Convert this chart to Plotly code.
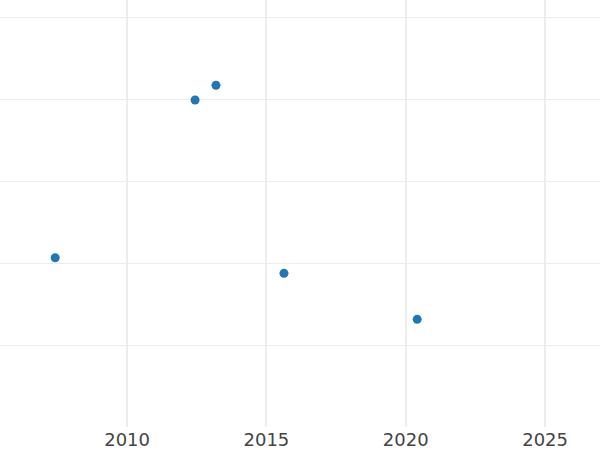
import plotly.graph_objects as go

# data
years = [2007.42, 2012.44, 2013.19, 2015.63, 2020.41]
values = [20.7, 39.9, 41.7, 18.8, 13.2]
x_ticks = [2010, 2015, 2020, 2025]
y_ticks = [10, 20, 30, 40, 50]

fig = go.Figure(go.Scatter(
    x=years, y=values, mode='markers',
    marker=dict(color='#1f77b4', size=9),
))

fig.update_layout(
    width=600, height=450,
    margin=dict(l=0, r=0, t=0, b=23),
    plot_bgcolor='white', paper_bgcolor='white',
    showlegend=False,
    font=dict(family='DejaVu Sans', size=18, color='#444444'),
)
fig.update_xaxes(
    range=[2005.44, 2026.97], tickvals=x_ticks,
    showgrid=True, gridcolor='#ededed', gridwidth=2,
    zeroline=False, showline=False, ticks='',
)
fig.update_yaxes(
    range=[0.1, 52.07], tickvals=y_ticks, showticklabels=False,
    showgrid=True, gridcolor='#ededed', gridwidth=1,
    zeroline=False, showline=False, ticks='',
)

# drop the page's default body margin so the figure sits at the window corner
fig.write_html("out.html", config={'displayModeBar': False},
               post_script="document.body.style.margin='0';")
